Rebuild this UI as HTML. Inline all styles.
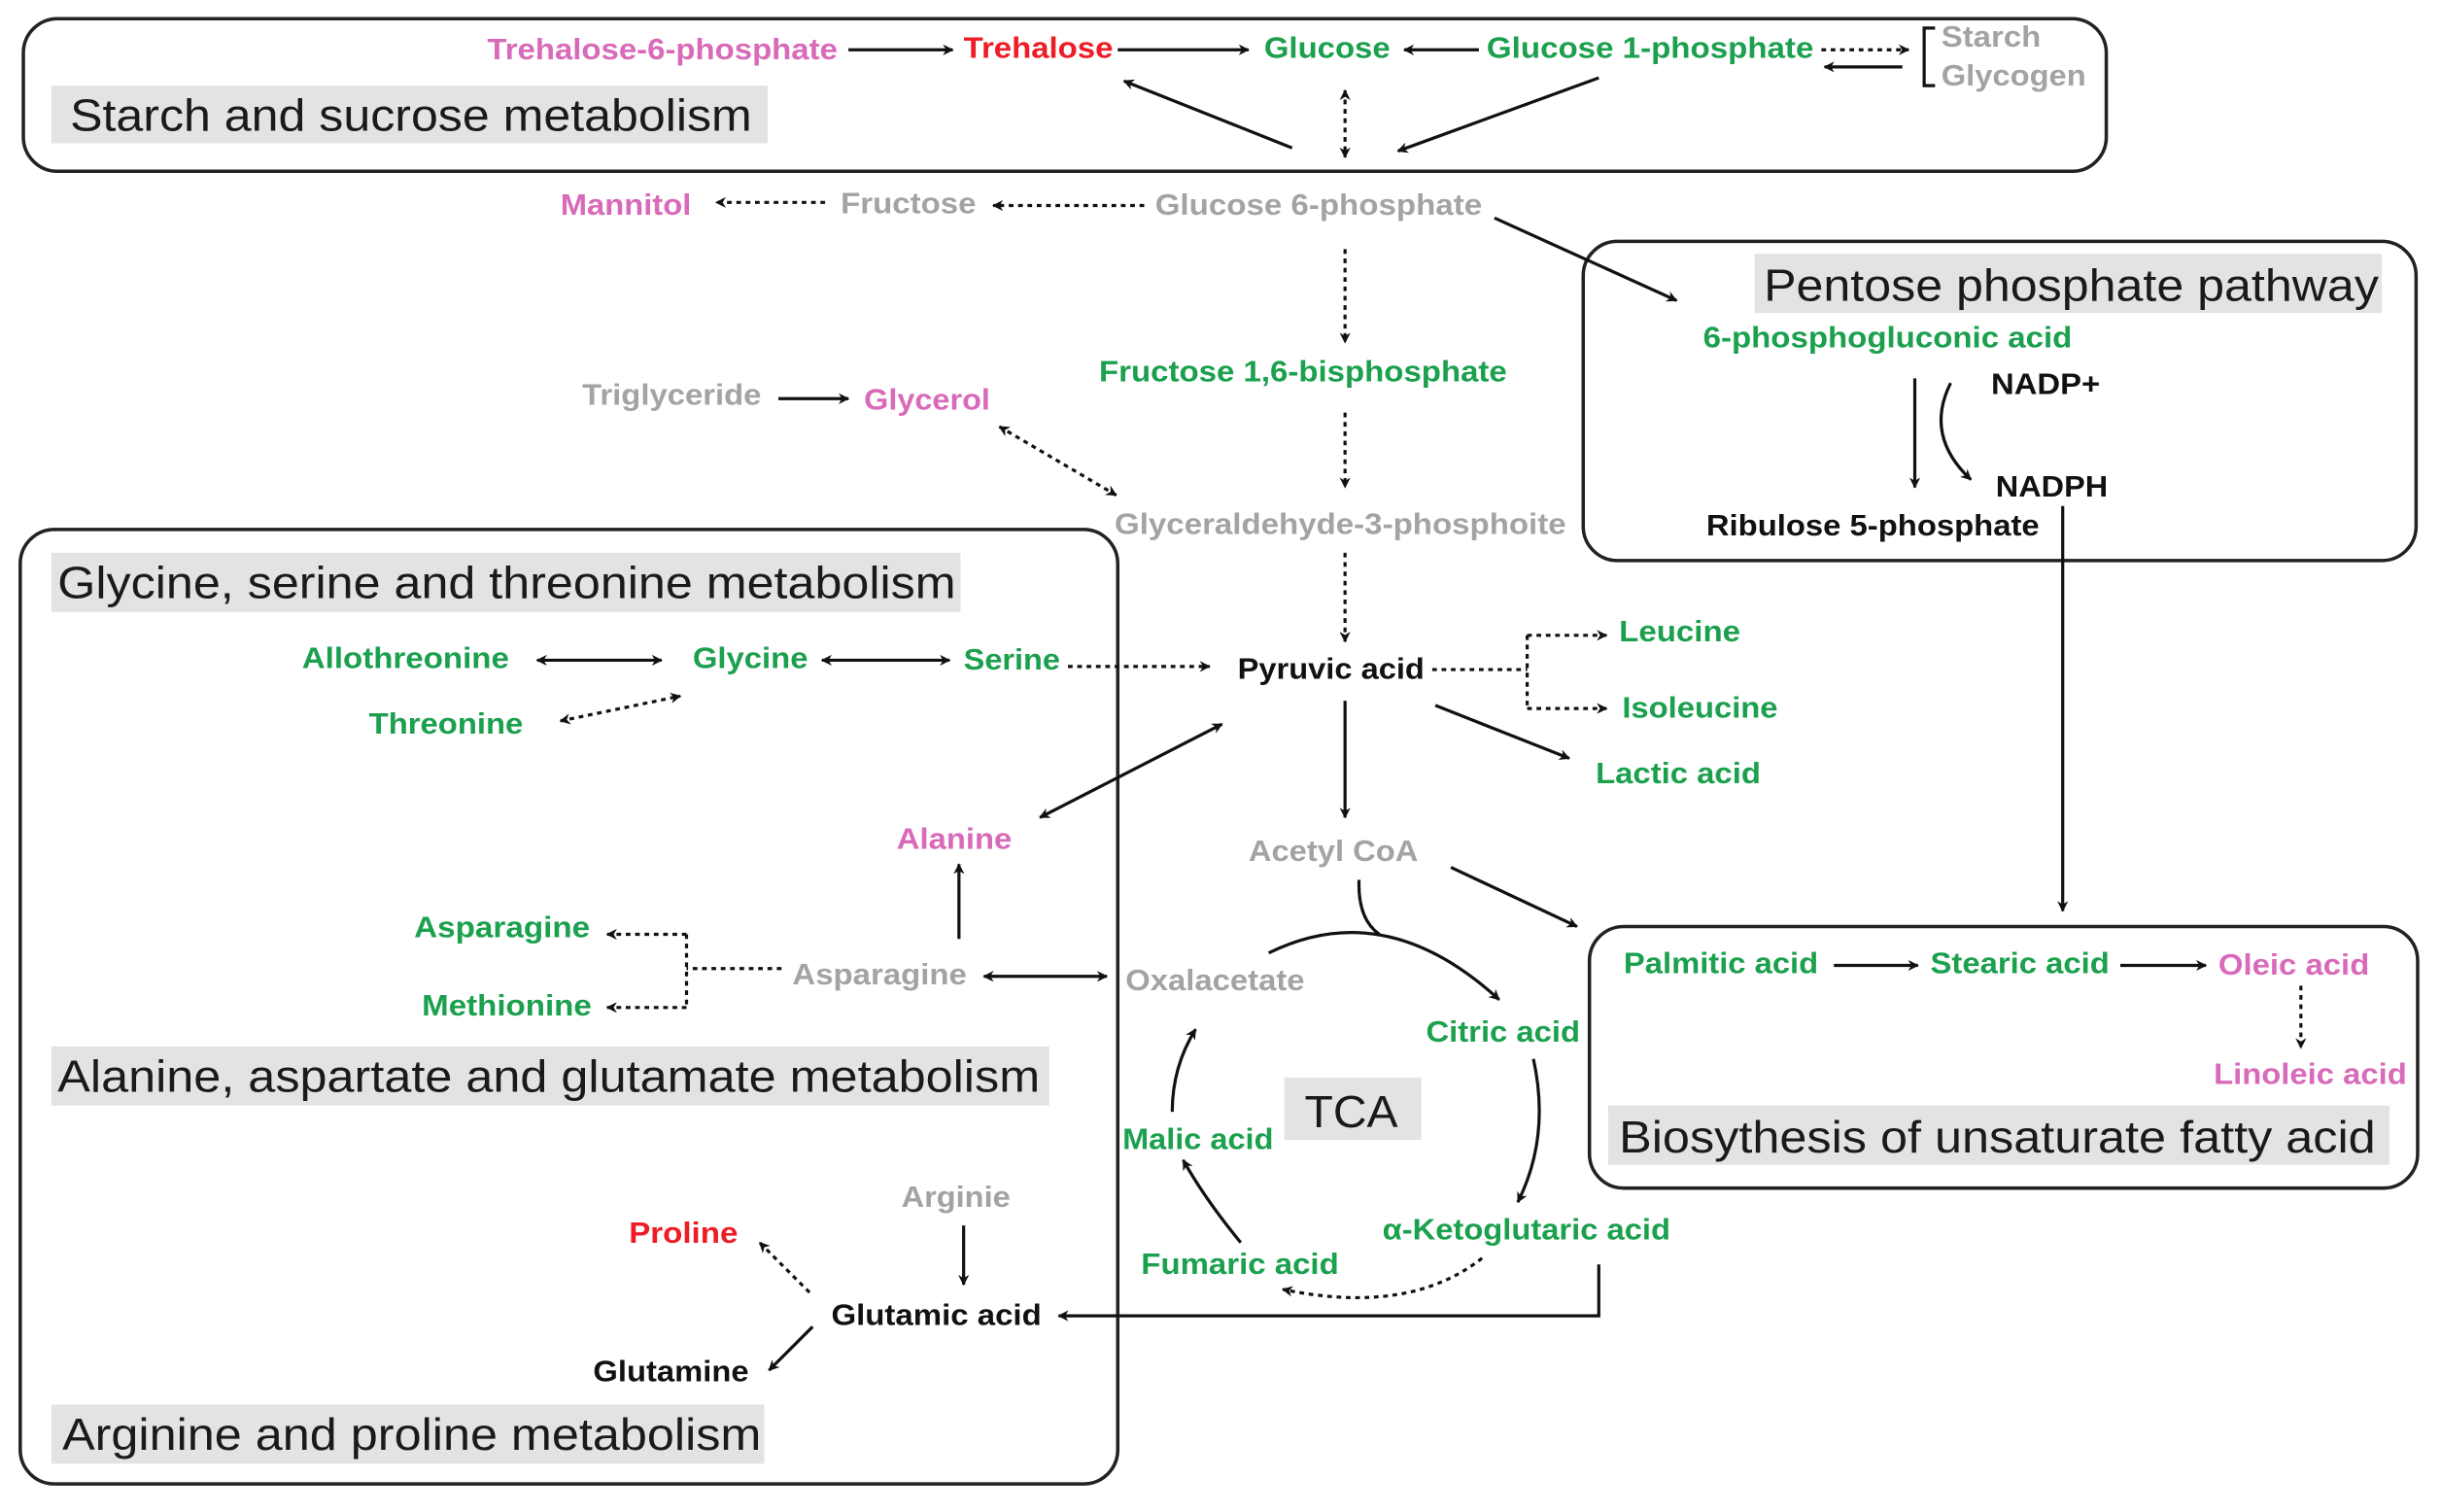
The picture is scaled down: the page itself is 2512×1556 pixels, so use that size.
<!DOCTYPE html>
<html><head><meta charset="utf-8"><style>
html,body{margin:0;padding:0;background:#fff;}
svg{display:block;}
text{font-family:"Liberation Sans",Arial,sans-serif;}
.n{font-size:19px;font-weight:bold;}
.g{fill:#1ba04e}.p{fill:#d86ab9}.r{fill:#ee1c25}.y{fill:#a3a3a3}.k{fill:#111}
.lb{font-size:29px;fill:#1a1a1a;}
.bg{fill:#e3e3e3}
.box{fill:none;stroke:#222;stroke-width:2.2}
.s{stroke:#111;stroke-width:2;fill:none}
.d{stroke:#111;stroke-width:2;fill:none;stroke-dasharray:3,3}
</style></head><body>
<svg width="2512" height="1556" viewBox="0 0 1568 971" preserveAspectRatio="none" xmlns="http://www.w3.org/2000/svg">
<defs>
<marker id="a" viewBox="0 0 10 10" refX="9" refY="5" markerWidth="7" markerHeight="7" orient="auto-start-reverse" markerUnits="userSpaceOnUse"><path d="M0,0 L10,5 L0,10 L3,5 z" fill="#111"/></marker>
</defs>
<rect class="box" x="15" y="12" width="1338" height="98" rx="22"/>
<rect class="box" x="1017" y="155" width="535" height="205" rx="22"/>
<rect class="box" x="13" y="340" width="705" height="613" rx="22"/>
<rect class="box" x="1021" y="595" width="532" height="168" rx="22"/>
<g lengthAdjust="spacingAndGlyphs">
<rect class="bg" x="33" y="55" width="460" height="37"/><text class="lb" x="45" y="84" textLength="438" lengthAdjust="spacingAndGlyphs">Starch and sucrose metabolism</text>
<rect class="bg" x="1127" y="163" width="403" height="38"/><text class="lb" x="1133" y="193" textLength="395" lengthAdjust="spacingAndGlyphs">Pentose phosphate pathway</text>
<rect class="bg" x="33" y="355" width="584" height="38"/><text class="lb" x="37" y="384" textLength="577" lengthAdjust="spacingAndGlyphs">Glycine, serine and threonine metabolism</text>
<rect class="bg" x="33" y="672" width="641" height="38"/><text class="lb" x="37" y="701" textLength="631" lengthAdjust="spacingAndGlyphs">Alanine, aspartate and glutamate metabolism</text>
<rect class="bg" x="33" y="902" width="458" height="38"/><text class="lb" x="40" y="931" textLength="449" lengthAdjust="spacingAndGlyphs">Arginine and proline metabolism</text>
<rect class="bg" x="825" y="692" width="88" height="40"/><text class="lb" x="838" y="724" textLength="60" lengthAdjust="spacingAndGlyphs">TCA</text>
<rect class="bg" x="1033" y="710" width="502" height="38"/><text class="lb" x="1040" y="740" textLength="486" lengthAdjust="spacingAndGlyphs">Biosythesis of unsaturate fatty acid</text>
</g>
<g class="n">
<text class="p" x="313" y="38" textLength="225" lengthAdjust="spacingAndGlyphs">Trehalose-6-phosphate</text>
<text class="r" x="619" y="37" textLength="96" lengthAdjust="spacingAndGlyphs">Trehalose</text>
<text class="g" x="812" y="37" textLength="81" lengthAdjust="spacingAndGlyphs">Glucose</text>
<text class="g" x="955" y="37" textLength="210" lengthAdjust="spacingAndGlyphs">Glucose 1-phosphate</text>
<text class="y" x="1247" y="30" textLength="64" lengthAdjust="spacingAndGlyphs">Starch</text>
<text class="y" x="1247" y="55" textLength="93" lengthAdjust="spacingAndGlyphs">Glycogen</text>
<text class="p" x="360" y="138" textLength="84" lengthAdjust="spacingAndGlyphs">Mannitol</text>
<text class="y" x="540" y="137" textLength="87" lengthAdjust="spacingAndGlyphs">Fructose</text>
<text class="y" x="742" y="138" textLength="210" lengthAdjust="spacingAndGlyphs">Glucose 6-phosphate</text>
<text class="g" x="706" y="245" textLength="262" lengthAdjust="spacingAndGlyphs">Fructose 1,6-bisphosphate</text>
<text class="y" x="374" y="260" textLength="115" lengthAdjust="spacingAndGlyphs">Triglyceride</text>
<text class="p" x="555" y="263" textLength="81" lengthAdjust="spacingAndGlyphs">Glycerol</text>
<text class="y" x="716" y="343" textLength="290" lengthAdjust="spacingAndGlyphs">Glyceraldehyde-3-phosphoite</text>
<text class="g" x="1094" y="223" textLength="237" lengthAdjust="spacingAndGlyphs">6-phosphogluconic acid</text>
<text class="k" x="1279" y="253" textLength="70" lengthAdjust="spacingAndGlyphs">NADP+</text>
<text class="k" x="1282" y="319" textLength="72" lengthAdjust="spacingAndGlyphs">NADPH</text>
<text class="k" x="1096" y="344" textLength="214" lengthAdjust="spacingAndGlyphs">Ribulose 5-phosphate</text>
<text class="g" x="194" y="429" textLength="133" lengthAdjust="spacingAndGlyphs">Allothreonine</text>
<text class="g" x="445" y="429" textLength="74" lengthAdjust="spacingAndGlyphs">Glycine</text>
<text class="g" x="619" y="430" textLength="62" lengthAdjust="spacingAndGlyphs">Serine</text>
<text class="g" x="237" y="471" textLength="99" lengthAdjust="spacingAndGlyphs">Threonine</text>
<text class="k" x="795" y="436" textLength="120" lengthAdjust="spacingAndGlyphs">Pyruvic acid</text>
<text class="g" x="1040" y="412" textLength="78" lengthAdjust="spacingAndGlyphs">Leucine</text>
<text class="g" x="1042" y="461" textLength="100" lengthAdjust="spacingAndGlyphs">Isoleucine</text>
<text class="g" x="1025" y="503" textLength="106" lengthAdjust="spacingAndGlyphs">Lactic acid</text>
<text class="y" x="802" y="553" textLength="109" lengthAdjust="spacingAndGlyphs">Acetyl CoA</text>
<text class="p" x="576" y="545" textLength="74" lengthAdjust="spacingAndGlyphs">Alanine</text>
<text class="g" x="266" y="602" textLength="113" lengthAdjust="spacingAndGlyphs">Asparagine</text>
<text class="g" x="271" y="652" textLength="109" lengthAdjust="spacingAndGlyphs">Methionine</text>
<text class="y" x="509" y="632" textLength="112" lengthAdjust="spacingAndGlyphs">Asparagine</text>
<text class="y" x="723" y="636" textLength="115" lengthAdjust="spacingAndGlyphs">Oxalacetate</text>
<text class="g" x="916" y="669" textLength="99" lengthAdjust="spacingAndGlyphs">Citric acid</text>
<text class="g" x="888" y="796" textLength="185" lengthAdjust="spacingAndGlyphs">α-Ketoglutaric acid</text>
<text class="g" x="733" y="818" textLength="127" lengthAdjust="spacingAndGlyphs">Fumaric acid</text>
<text class="g" x="721" y="738" textLength="97" lengthAdjust="spacingAndGlyphs">Malic acid</text>
<text class="y" x="579" y="775" textLength="70" lengthAdjust="spacingAndGlyphs">Arginie</text>
<text class="k" x="534" y="851" textLength="135" lengthAdjust="spacingAndGlyphs">Glutamic acid</text>
<text class="r" x="404" y="798" textLength="70" lengthAdjust="spacingAndGlyphs">Proline</text>
<text class="k" x="381" y="887" textLength="100" lengthAdjust="spacingAndGlyphs">Glutamine</text>
<text class="g" x="1043" y="625" textLength="125" lengthAdjust="spacingAndGlyphs">Palmitic acid</text>
<text class="g" x="1240" y="625" textLength="115" lengthAdjust="spacingAndGlyphs">Stearic acid</text>
<text class="p" x="1425" y="626" textLength="97" lengthAdjust="spacingAndGlyphs">Oleic acid</text>
<text class="p" x="1422" y="696" textLength="124" lengthAdjust="spacingAndGlyphs">Linoleic acid</text>
</g>
<line class="s" x1="545" y1="32" x2="612" y2="32" marker-end="url(#a)"/>
<line class="s" x1="718" y1="32" x2="802" y2="32" marker-end="url(#a)"/>
<line class="s" x1="950" y1="32" x2="902" y2="32" marker-end="url(#a)"/>
<line class="d" x1="1170" y1="32" x2="1226" y2="32" marker-end="url(#a)"/>
<line class="s" x1="1222" y1="43" x2="1172" y2="43" marker-end="url(#a)"/>
<path class="s" d="M1243,18 H1236 V55 H1243"/>
<line class="s" x1="830" y1="95" x2="722" y2="52" marker-end="url(#a)"/>
<line class="d" x1="864" y1="58" x2="864" y2="101" marker-start="url(#a)" marker-end="url(#a)"/>
<line class="s" x1="1027" y1="50" x2="898" y2="97" marker-end="url(#a)"/>
<line class="d" x1="530" y1="130" x2="460" y2="130" marker-end="url(#a)"/>
<line class="d" x1="735" y1="132" x2="638" y2="132" marker-end="url(#a)"/>
<line class="s" x1="960" y1="140" x2="1077" y2="193" marker-end="url(#a)"/>
<line class="d" x1="864" y1="160" x2="864" y2="220" marker-end="url(#a)"/>
<line class="s" x1="500" y1="256" x2="545" y2="256" marker-end="url(#a)"/>
<line class="d" x1="642" y1="274" x2="717" y2="318" marker-start="url(#a)" marker-end="url(#a)"/>
<line class="d" x1="864" y1="265" x2="864" y2="313" marker-end="url(#a)"/>
<line class="d" x1="864" y1="355" x2="864" y2="412" marker-end="url(#a)"/>
<line class="s" x1="1230" y1="243" x2="1230" y2="313" marker-end="url(#a)"/>
<path class="s" d="M1253,246 Q1236,280 1266,308" marker-end="url(#a)"/>
<line class="s" x1="1325" y1="325" x2="1325" y2="585" marker-end="url(#a)"/>
<line class="s" x1="345" y1="424" x2="425" y2="424" marker-start="url(#a)" marker-end="url(#a)"/>
<line class="s" x1="528" y1="424" x2="610" y2="424" marker-start="url(#a)" marker-end="url(#a)"/>
<line class="d" x1="686" y1="428" x2="777" y2="428" marker-end="url(#a)"/>
<line class="d" x1="360" y1="463" x2="437" y2="447" marker-start="url(#a)" marker-end="url(#a)"/>
<path class="d" d="M920,430 H981 M981,408 V455"/>
<line class="d" x1="981" y1="408" x2="1032" y2="408" marker-end="url(#a)"/>
<line class="d" x1="981" y1="455" x2="1032" y2="455" marker-end="url(#a)"/>
<line class="s" x1="922" y1="453" x2="1008" y2="487" marker-end="url(#a)"/>
<line class="s" x1="864" y1="450" x2="864" y2="525" marker-end="url(#a)"/>
<line class="s" x1="932" y1="557" x2="1013" y2="595" marker-end="url(#a)"/>
<line class="s" x1="668" y1="525" x2="785" y2="465" marker-start="url(#a)" marker-end="url(#a)"/>
<line class="s" x1="616" y1="603" x2="616" y2="555" marker-end="url(#a)"/>
<path class="d" d="M502,622 H441 M441,600 V647"/>
<line class="d" x1="441" y1="600" x2="390" y2="600" marker-end="url(#a)"/>
<line class="d" x1="441" y1="647" x2="390" y2="647" marker-end="url(#a)"/>
<line class="s" x1="632" y1="627" x2="711" y2="627" marker-start="url(#a)" marker-end="url(#a)"/>
<path class="s" d="M815,612 Q890,575 963,642" marker-end="url(#a)"/>
<path class="s" d="M873,565 Q872,590 886,600"/>
<path class="s" d="M985,680 Q996,730 975,772" marker-end="url(#a)"/>
<path class="d" d="M952,808 Q905,845 824,828" marker-end="url(#a)"/>
<path class="s" d="M797,798 Q774,770 760,745" marker-end="url(#a)"/>
<path class="s" d="M753,714 Q753,685 768,661" marker-end="url(#a)"/>
<path class="s" d="M1027,812 V845 H680" marker-end="url(#a)"/>
<line class="s" x1="619" y1="787" x2="619" y2="825" marker-end="url(#a)"/>
<line class="d" x1="520" y1="830" x2="488" y2="798" marker-end="url(#a)"/>
<line class="s" x1="522" y1="852" x2="494" y2="880" marker-end="url(#a)"/>
<line class="s" x1="1178" y1="620" x2="1232" y2="620" marker-end="url(#a)"/>
<line class="s" x1="1362" y1="620" x2="1417" y2="620" marker-end="url(#a)"/>
<line class="d" x1="1478" y1="633" x2="1478" y2="673" marker-end="url(#a)"/>
</svg>
</body></html>
